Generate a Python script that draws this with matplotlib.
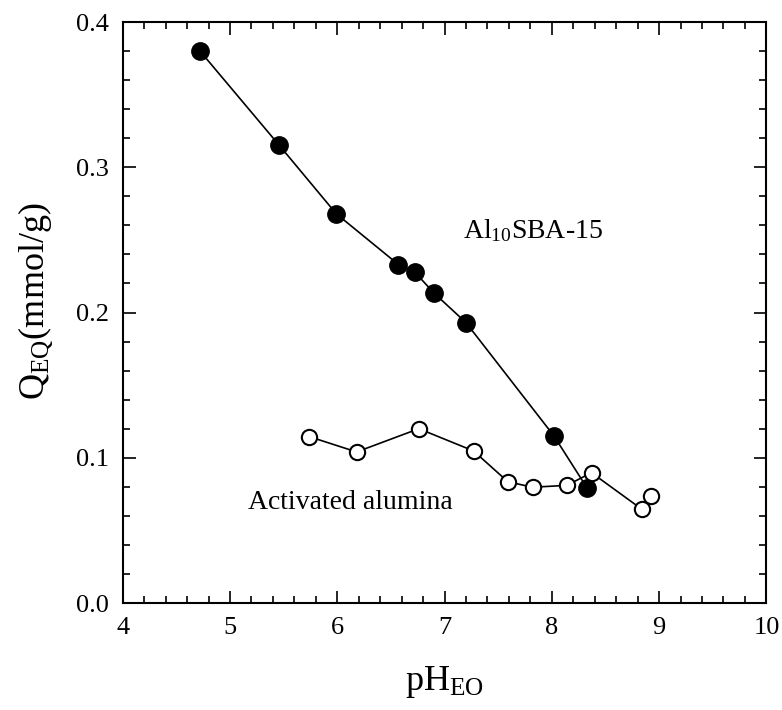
import matplotlib
matplotlib.use("Agg")
import matplotlib.pyplot as plt
from matplotlib.ticker import MultipleLocator, FormatStrFormatter

plt.rcParams['font.family'] = ['Liberation Serif', 'DejaVu Serif']
plt.rcParams['mathtext.fontset'] = 'custom'
plt.rcParams['mathtext.rm'] = 'Liberation Serif'
plt.rcParams['mathtext.it'] = 'Liberation Serif:italic'

# Al10SBA-15 (filled)
ph_sba = [4.72, 5.46, 5.99, 6.57, 6.72, 6.90, 7.20, 8.02, 8.33]
q_sba = [0.380, 0.315, 0.268, 0.233, 0.228, 0.2135, 0.193, 0.115, 0.079]

# Activated alumina (open)
ph_alu = [5.74, 6.18, 6.76, 7.27, 7.59, 7.82, 8.14, 8.37, 8.84, 8.92]
q_alu = [0.1145, 0.104, 0.120, 0.1047, 0.0835, 0.0797, 0.081, 0.0897, 0.0645, 0.0737]

x_ticks = [4, 5, 6, 7, 8, 9, 10]
y_ticks = [0.0, 0.1, 0.2, 0.3, 0.4]

fig = plt.figure(figsize=(7.82, 7.10), dpi=100)
ax = fig.add_axes([0.157, 0.1507, 0.823, 0.8183])

ax.plot(ph_sba, q_sba, '-', color='black', lw=1.2, marker='o', ms=12.5,
        mfc='black', mec='black', zorder=3)
ax.plot(ph_alu, q_alu, '-', color='black', lw=1.2, marker='o', ms=11,
        mfc='white', mec='black', mew=1.5, zorder=4)

ax.set_xlim(4, 10)
ax.set_ylim(0, 0.4)
ax.set_xticks(x_ticks)
ax.set_yticks(y_ticks)
ax.xaxis.set_minor_locator(MultipleLocator(0.2))
ax.yaxis.set_minor_locator(MultipleLocator(0.02))
ax.yaxis.set_major_formatter(FormatStrFormatter('%.1f'))
ax.tick_params(which='both', direction='in', top=True, right=True, width=1.2,
               labelsize=19)
ax.tick_params(axis='y', pad=10)
ax.tick_params(axis='x', pad=10)
ax.tick_params(which='major', length=9)
ax.tick_params(which='minor', length=5)
for s in ax.spines.values():
    s.set_linewidth(1.5)

ax.set_xlabel(r'pH$_{\mathrm{EO}}$', fontsize=26)
ax.set_ylabel(r'Q$_{\mathrm{EQ}}$(mmol/g)', fontsize=26)
ax.xaxis.set_label_coords(0.5, -0.105)
ax.yaxis.set_label_coords(-0.105, 0.52)

ax.text(7.17, 0.251, r'Al$_{\mathrm{10}}$SBA-15', fontsize=20, ha='left', va='baseline')
ax.text(5.17, 0.065, 'Activated alumina', fontsize=20, ha='left', va='baseline')

fig.savefig('out.png', dpi=100)
